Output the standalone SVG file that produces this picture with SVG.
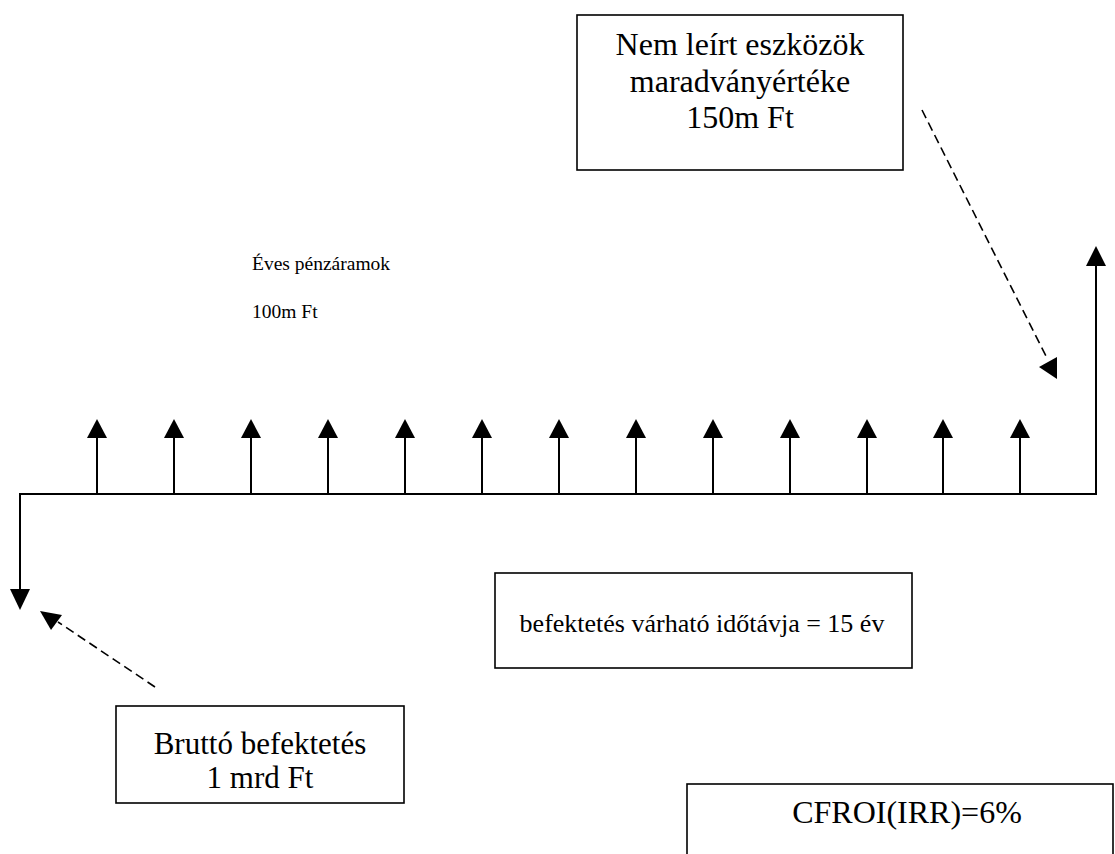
<svg xmlns="http://www.w3.org/2000/svg" width="1115" height="854" viewBox="0 0 1115 854">
  <style>
    .box { fill: #ffffff; stroke: #000000; stroke-width: 1.6; }
    .lbl { font-family: "Liberation Serif", "Times New Roman", serif; fill: #000000; }
    .big { font-size: 32px; text-anchor: middle; }
    .tight { font-size: 31px; text-anchor: middle; }
    .mid { font-size: 26px; text-anchor: middle; }
    .small { font-size: 19.5px; }
    .axis { fill: none; stroke: #000000; stroke-width: 2; }
    .dash { fill: none; stroke: #000000; stroke-width: 1.6; stroke-dasharray: 9 5; }
    .head { fill: #000000; stroke: none; }
  </style>
  <defs>
    <!-- upward cash-flow arrow, origin at timeline -->
    <g id="upArrow">
      <line x1="0" y1="0" x2="0" y2="-57" class="axis"/>
      <polygon points="0,-75 10,-56 -10,-56" class="head"/>
    </g>
  </defs>

  <rect width="1115" height="854" fill="#ffffff"/>

  <g id="residual-box">
    <rect x="577" y="15" width="326" height="155" class="box"/>
    <text x="740" y="55" class="lbl big">Nem leírt eszközök</text>
    <text x="740" y="92" class="lbl big">maradványértéke</text>
    <text x="740" y="128" class="lbl big">150m Ft</text>
  </g>

  <g id="annual-label">
    <text x="252" y="270" class="lbl small">Éves pénzáramok</text>
    <text x="252" y="318" class="lbl small">100m Ft</text>
  </g>

  <g id="horizon-box">
    <rect x="495" y="573" width="417" height="95" class="box"/>
    <text x="702" y="632" class="lbl mid">befektetés várható időtávja = 15 év</text>
  </g>

  <g id="investment-box">
    <rect x="116" y="706" width="288" height="97" class="box"/>
    <text x="260" y="754" class="lbl tight">Bruttó befektetés</text>
    <text x="260" y="788" class="lbl tight">1 mrd Ft</text>
  </g>

  <g id="cfroi-box">
    <rect x="687" y="784" width="426" height="90" class="box"/>
    <text x="907" y="823" class="lbl big">CFROI(IRR)=6%</text>
  </g>

  <g id="connectors">
    <!-- timeline -->
    <polyline points="20,590 20,494 1096,494 1096,264" class="axis"/>
    <polygon points="20,610 30,589 10,589" class="head"/>
    <polygon points="1096,246 1106,266 1086,266" class="head"/>

    <!-- yearly cash flows -->
    <use href="#upArrow" x="97" y="494"/>
    <use href="#upArrow" x="174" y="494"/>
    <use href="#upArrow" x="251" y="494"/>
    <use href="#upArrow" x="328" y="494"/>
    <use href="#upArrow" x="405" y="494"/>
    <use href="#upArrow" x="482" y="494"/>
    <use href="#upArrow" x="559" y="494"/>
    <use href="#upArrow" x="636" y="494"/>
    <use href="#upArrow" x="713" y="494"/>
    <use href="#upArrow" x="790" y="494"/>
    <use href="#upArrow" x="867" y="494"/>
    <use href="#upArrow" x="943" y="494"/>
    <use href="#upArrow" x="1020" y="494"/>

    <!-- pointer from residual value box -->
    <line x1="922" y1="110" x2="1047" y2="358" class="dash"/>
    <polygon points="1039,367 1057,357 1057,379" class="head"/>

    <!-- pointer from gross investment box -->
    <line x1="155" y1="687" x2="58" y2="622" class="dash"/>
    <polygon points="40,611 62,615 51,630" class="head"/>
  </g>
</svg>
